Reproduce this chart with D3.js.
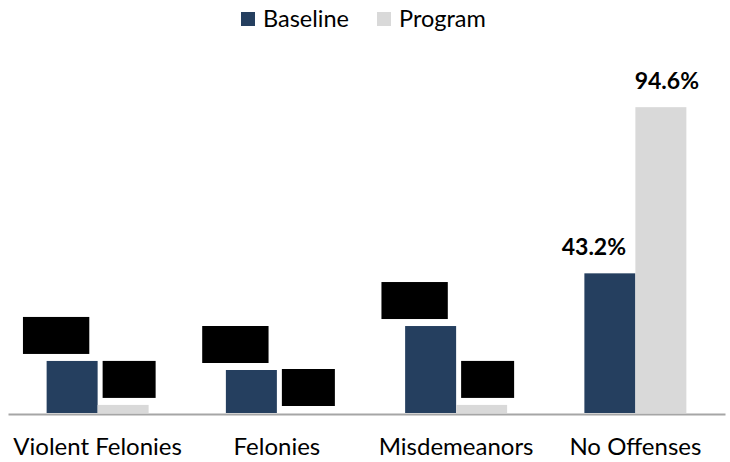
<!DOCTYPE html>
<html>
<head>
<meta charset="utf-8">
<script src="https://cdn.jsdelivr.net/npm/d3@7"></script>
<style>
  html, body { margin: 0; padding: 0; background: #fff; }
  svg { display: block; font-family: Lato, "Open Sans", sans-serif; }
</style>
</head>
<body>
<svg id="chart" width="730" height="462"></svg>
<script>
const categories = ["Violent Felonies", "Felonies", "Misdemeanors", "No Offenses"];
const seriesNames = ["Baseline", "Program"];
const baselineValues = [16.1, 13.3, 26.9, 43.2];
const programValues = [2.5, 0.0, 2.5, 94.6];
// which value labels are shown (others are covered by black redaction boxes)
const baselineRedacted = [true, true, true, false];
const programRedacted = [true, true, true, false];

const colors = { Baseline: "#253F5F", Program: "#D9D9D9" };

const svg = d3.select("#chart");
const W = 730, H = 462;
const left = 8, right = 725, zeroY = 413, topY = 89.7;

const x0 = d3.scaleBand().domain(categories).range([left, right])
  .paddingInner(0.431).paddingOuter(0.2155);
const x1 = d3.scaleBand().domain(seriesNames).range([0, x0.bandwidth()]).padding(0);
const y = d3.scaleLinear().domain([0, 100]).range([zeroY, topY]);

const rows = categories.map((c, i) => ({
  cat: c,
  vals: [
    { s: "Baseline", v: baselineValues[i], red: baselineRedacted[i] },
    { s: "Program", v: programValues[i], red: programRedacted[i] }
  ]
}));

const g = svg.append("g");
const groups = g.selectAll("g.grp").data(rows).join("g")
  .attr("transform", d => `translate(${x0(d.cat)},0)`);

groups.selectAll("rect.bar").data(d => d.vals).join("rect")
  .attr("class", "bar")
  .attr("x", d => x1(d.s))
  .attr("width", x1.bandwidth())
  .attr("y", d => y(d.v))
  .attr("height", d => y(0) - y(d.v))
  .attr("fill", d => colors[d.s]);

// axis baseline
const xAxis = d3.axisBottom(x0).tickSize(0).tickPadding(0);
const axG = svg.append("g").attr("transform", `translate(0,${zeroY + 1})`).call(xAxis);
axG.select(".domain").attr("stroke", "#A6A6A6").attr("stroke-width", 2);
axG.selectAll(".tick text")
  .attr("y", 41).attr("dy", null)
  .attr("font-family", "Lato, 'Open Sans', sans-serif")
  .attr("font-size", 24).attr("fill", "#000");

// value labels
const labelOffset = { Baseline: -16, Program: 6 };
const fmt = v => v.toFixed(1) + "%";
groups.each(function(d) {
  const grp = d3.select(this);
  d.vals.forEach(p => {
    const cx = x1(p.s) + x1.bandwidth() / 2 + labelOffset[p.s];
    const top = y(p.v);
    const t = grp.append("text")
      .attr("x", cx).attr("y", top - 18)
      .attr("text-anchor", "middle")
      .attr("font-weight", "bold")
      .attr("font-size", 23)
      .attr("fill", "#000")
      .text(fmt(p.v));
    if (p.red) {
      const bb = t.node().getBBox();
      grp.insert("rect", () => t.node())
        .attr("x", cx - bb.width / 2 - 1)
        .attr("y", top - 44)
        .attr("width", bb.width + 2)
        .attr("height", 37)
        .attr("fill", "#000");
    }
  });
});

// legend
const legend = svg.append("g");
const legItems = [
  { s: "Baseline", x: 241 },
  { s: "Program", x: 377 }
];
legItems.forEach(it => {
  legend.append("rect").attr("x", it.x).attr("y", 12).attr("width", 14).attr("height", 14)
    .attr("fill", colors[it.s]);
  legend.append("text").attr("x", it.x + 22).attr("y", 27)
    .attr("font-size", 23.5).attr("fill", "#000").text(it.s);
});
</script>
</body>
</html>
